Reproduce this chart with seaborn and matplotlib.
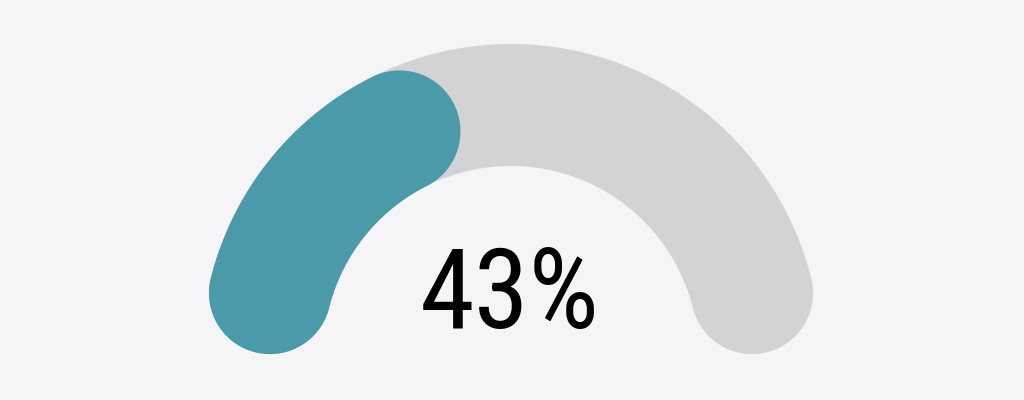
import numpy as np
import matplotlib
matplotlib.use("Agg")
import matplotlib.pyplot as plt
from matplotlib import font_manager
import seaborn as sns

# =====================================================
# DATA
# =====================================================
value = 43          # percent shown on the gauge
gauge_min = 0
gauge_max = 100
label = f"{value}%"

# =====================================================
# STYLE
# =====================================================
bg = "#f5f4f7"
track_color = "#d3d2d5"
fill_color = "#4a9aa9"

sns.set_theme(style="white", rc={"figure.facecolor": bg, "axes.facecolor": bg})

names = {f.name for f in font_manager.fontManager.ttflist}
candidates = ["Roboto Condensed", "Liberation Sans Narrow", "DejaVu Sans Condensed", "Roboto"]
family = [c for c in candidates if c in names] + ["DejaVu Sans"]
print("fonts:", family)
plt.rcParams["font.family"] = family

r_mid = 1.0
half_w = 0.2455
cap = half_w / r_mid  # angular size of the round cap (rad)


def band(frac_from, frac_to, n=200):
    # visual extent (incl. round caps) maps onto 180 deg .. 0 deg
    a = np.pi * (1 - frac_from) - cap
    b = np.pi * (1 - frac_to) + cap
    t = np.linspace(a, b, n)
    ro, ri = r_mid + half_w, r_mid - half_w
    xs = list(ro * np.cos(t))
    ys = list(ro * np.sin(t))
    # cap at end b
    cx, cy = r_mid * np.cos(b), r_mid * np.sin(b)
    u = np.linspace(b, b - np.pi, 60)
    xs += list(cx + half_w * np.cos(u))
    ys += list(cy + half_w * np.sin(u))
    xs += list(ri * np.cos(t[::-1]))
    ys += list(ri * np.sin(t[::-1]))
    # cap at start a
    cx, cy = r_mid * np.cos(a), r_mid * np.sin(a)
    u = np.linspace(a + np.pi, a, 60)
    xs += list(cx + half_w * np.cos(u))
    ys += list(cy + half_w * np.sin(u))
    return xs, ys


fig = plt.figure(figsize=(10.24, 4), dpi=100)
ax = fig.add_axes([0, 0, 1, 1])

frac = (value - gauge_min) / (gauge_max - gauge_min)
x, y = band(0, 1)
ax.fill(x, y, color=track_color, lw=0)
x, y = band(0, frac)
ax.fill(x, y, color=fill_color, lw=0)

ax.text(-0.004, 0.103, label, ha="center", va="baseline",
        fontsize=80, color="#000000")

px = 248.5
ax.set_xlim(-511 / px, 513 / px)
ax.set_ylim(-(400 - 353.5) / px, 353.5 / px)
ax.set_aspect("auto")
ax.axis("off")

fig.savefig("out.png", dpi=100, facecolor=bg)
